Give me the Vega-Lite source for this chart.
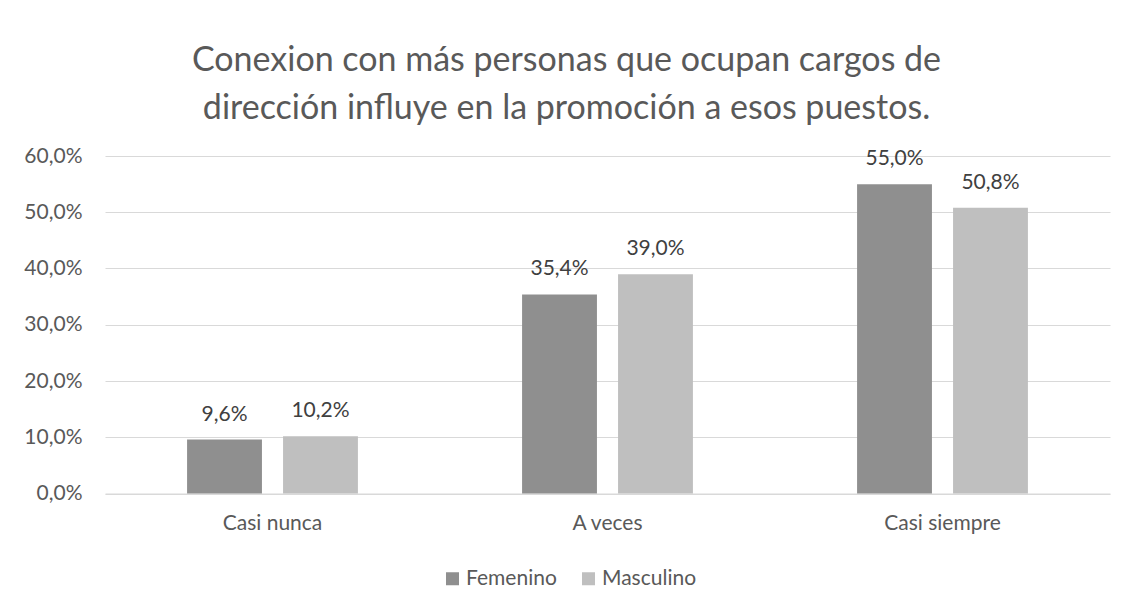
{
  "$schema": "https://vega.github.io/schema/vega-lite/v6.json",
  "autosize": "none",
  "width": 1005,
  "height": 337.5,
  "padding": {"left": 105, "top": 156, "right": 22, "bottom": 117},
  "background": "white",
  "config": {
    "locale": {"number": {"decimal": ",", "thousands": ".", "grouping": [3], "currency": ["", " €"]}},
    "font": "Lato",
    "view": {"stroke": null}
  },
  "title": {
    "text": ["Conexion con más personas que ocupan cargos de", "dirección influye en la promoción a esos puestos."],
    "font": "Lato",
    "fontSize": 34,
    "fontWeight": "normal",
    "color": "#595959",
    "lineHeight": 48,
    "anchor": "middle",
    "dx": -41,
    "offset": 19
  },
  "data": {
    "values": [
      {"cat": "Casi nunca", "sexo": "Femenino", "v": 0.096},
      {"cat": "Casi nunca", "sexo": "Masculino", "v": 0.102},
      {"cat": "A veces", "sexo": "Femenino", "v": 0.354},
      {"cat": "A veces", "sexo": "Masculino", "v": 0.390},
      {"cat": "Casi siempre", "sexo": "Femenino", "v": 0.550},
      {"cat": "Casi siempre", "sexo": "Masculino", "v": 0.508}
    ]
  },
  "encoding": {
    "x": {
      "field": "cat", "type": "nominal", "sort": ["Casi nunca", "A veces", "Casi siempre"],
      "scale": {"paddingInner": 0.49, "paddingOuter": 0.245},
      "axis": {"title": null, "labelAngle": 0, "labelFontSize": 21, "labelColor": "#595959", "labelPadding": 19, "ticks": false, "domainColor": "#d9d9d9", "domainWidth": 1, "labelFont": "Lato"}
    },
    "xOffset": {"field": "sexo", "type": "nominal", "scale": {"paddingInner": 0.22, "paddingOuter": 0}},
    "y": {
      "field": "v", "type": "quantitative",
      "scale": {"domain": [0, 0.6]},
      "axis": {"title": null, "format": ".1%", "values": [0, 0.1, 0.2, 0.3, 0.4, 0.5, 0.6], "labelOverlap": false, "labelFontSize": 21, "labelColor": "#595959", "labelPadding": 23, "ticks": false, "domain": false, "gridColor": "#d9d9d9", "gridWidth": 1, "labelFont": "Lato"}
    }
  },
  "layer": [
    {
      "mark": {"type": "bar"},
      "encoding": {
        "color": {
          "field": "sexo", "type": "nominal",
          "scale": {"domain": ["Femenino", "Masculino"], "range": ["#8f8f8f", "#bfbfbf"]},
          "legend": {
            "title": null, "orient": "none", "direction": "horizontal",
            "legendX": 337, "legendY": 412,
            "symbolType": "square", "symbolSize": 169, "symbolStrokeWidth": 0,
            "labelFontSize": 21, "labelColor": "#595959", "labelFont": "Lato",
            "columnPadding": 21, "labelOffset": 3
          }
        }
      }
    },
    {
      "mark": {"type": "text", "baseline": "middle", "dy": -25, "fontSize": 21, "color": "#404040", "font": "Lato"},
      "encoding": {
        "text": {"field": "v", "type": "quantitative", "format": ".1%"}
      }
    }
  ]
}
